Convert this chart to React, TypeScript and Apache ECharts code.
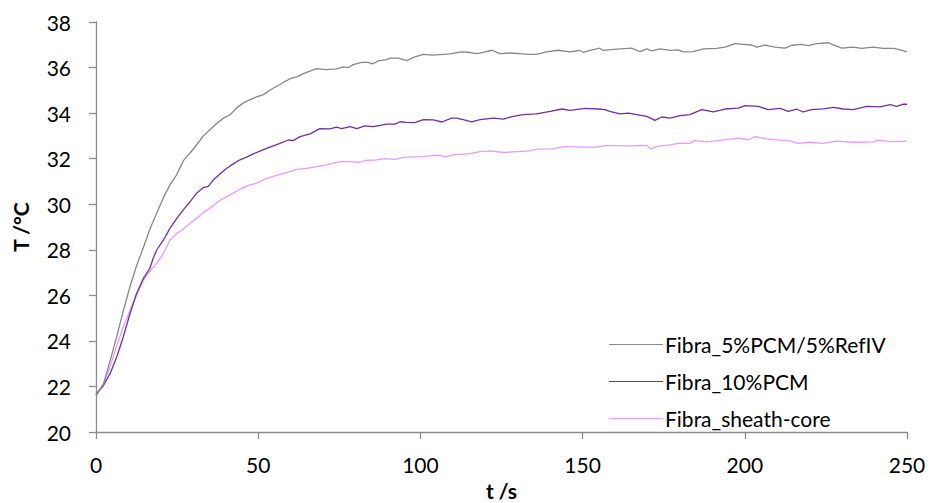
import React, { useEffect, useRef } from "react";
import * as echarts from "echarts";

const seriesNames = ["Fibra_5%PCM/5%RefIV", "Fibra_10%PCM", "Fibra_sheath-core"];
const seriesColors = ["#888888", "#7030a0", "#e59bff"];

const gray5PCM: number[][] = [
  [0, 21.6], [2.3, 22.1], [4.3, 23.1], [6.4, 24.2], [8.4, 25.3], [10.5, 26.4], [12.5, 27.3], [14.6, 28.1],
  [16.6, 28.9], [18.7, 29.6], [20.8, 30.3], [22.8, 30.85], [24.9, 31.3], [26.9, 31.9], [28, 32.1], [29, 32.25],
  [31, 32.6], [33.1, 33.0], [35.1, 33.27], [37.2, 33.54], [39.3, 33.78], [41.3, 33.93], [43.4, 34.23],
  [45.4, 34.45], [47.5, 34.59], [49.5, 34.71], [51.6, 34.81], [54.7, 35.1], [58.3, 35.39], [60.3, 35.54],
  [61.9, 35.59], [63.9, 35.73], [68, 35.95], [71.1, 35.91], [74.2, 35.94], [76.2, 36.03], [77.8, 36.0],
  [79.3, 36.13], [81.9, 36.23], [83.9, 36.23], [85.3, 36.16], [87, 36.29], [89.6, 36.35], [90.6, 36.41],
  [93.2, 36.41], [95.8, 36.3], [97.8, 36.45], [100.9, 36.58], [104, 36.55], [109.1, 36.6], [112.7, 36.69],
  [115.3, 36.66], [117.4, 36.61], [119.4, 36.67], [122, 36.76], [124.5, 36.61], [127.6, 36.64], [130.7, 36.61],
  [133.3, 36.58], [135.8, 36.58], [138.9, 36.69], [142.5, 36.76], [146.1, 36.69], [149.2, 36.75], [150.2, 36.67],
  [152.3, 36.75], [155.2, 36.85], [156.4, 36.75], [160.5, 36.81], [165.1, 36.85], [167.7, 36.7], [169.8, 36.82],
  [171.3, 36.73], [173.9, 36.82], [177, 36.75], [179.5, 36.78], [181, 36.69], [184.1, 36.7], [187.2, 36.82],
  [191.3, 36.84], [193.9, 36.9], [197, 37.05], [199.5, 37.02], [202.1, 36.99], [203.7, 36.9], [206.2, 36.98],
  [209.3, 36.9], [212.4, 36.85], [214.5, 36.98], [217.5, 37.02], [219.6, 36.96], [222.2, 37.05], [225.8, 37.09],
  [227.3, 37.0], [229.9, 36.85], [233.4, 36.9], [236, 36.84], [239.6, 36.9], [242.7, 36.84], [245.8, 36.84],
  [247.8, 36.79], [250, 36.69],
];

const purple10PCM: number[][] = [
  [0, 21.64], [2.3, 22.04], [4.3, 22.55], [6.4, 23.29], [8.4, 24.17], [10.5, 25.2], [12.5, 26.08], [14.6, 26.74],
  [16.6, 27.18], [17.6, 27.62], [18.7, 27.99], [20.8, 28.43], [22.8, 28.94], [24.9, 29.38], [26.9, 29.75],
  [29, 30.11], [31, 30.48], [33.1, 30.73], [34.6, 30.78], [36.2, 31.07], [38.2, 31.33], [40.3, 31.58],
  [42.3, 31.77], [44.4, 31.95], [46.4, 32.07], [48.5, 32.21], [50.5, 32.33], [53.6, 32.51], [56.7, 32.67],
  [59.3, 32.82], [60.8, 32.79], [62.9, 32.97], [66, 33.09], [69, 33.32], [72.1, 33.31], [74.2, 33.38],
  [75.7, 33.32], [78.3, 33.41], [80.4, 33.32], [82.9, 33.44], [85.5, 33.41], [87.5, 33.46], [89.6, 33.52],
  [92.2, 33.52], [93.7, 33.62], [95.8, 33.59], [98.3, 33.58], [100.9, 33.71], [104, 33.7], [106.6, 33.61],
  [109.6, 33.78], [111.1, 33.78], [113.2, 33.71], [115.8, 33.62], [118.4, 33.71], [122.5, 33.78], [125.6, 33.74],
  [128.6, 33.86], [131.7, 33.93], [135.8, 33.97], [140, 34.08], [143.6, 34.18], [146.1, 34.12], [150.7, 34.21],
  [154.8, 34.18], [156.9, 34.15], [158.4, 34.08], [161.5, 33.97], [164.1, 34.0], [166.7, 33.93], [169.8, 33.86],
  [172.3, 33.68], [174.4, 33.83], [177, 33.78], [180, 33.89], [183.1, 33.93], [186.7, 34.15], [190.3, 34.05],
  [193.9, 34.18], [198, 34.22], [200.1, 34.33], [204.2, 34.3], [207.2, 34.15], [210.9, 34.21], [213.4, 34.08],
  [216, 34.18], [218, 34.05], [220.6, 34.15], [224.2, 34.19], [227.3, 34.25], [230.4, 34.18], [233.4, 34.15],
  [237.6, 34.3], [241.7, 34.27], [244.8, 34.37], [246.8, 34.3], [248.9, 34.39], [250, 34.39],
];

const pinkSheathCore: number[][] = [
  [0, 21.64], [2.3, 22.11], [4.3, 22.85], [6.4, 23.8], [8.4, 24.61], [10.5, 25.34], [12.5, 26.0], [14.6, 26.66],
  [16.1, 26.96], [18.7, 27.4], [20.8, 27.84], [22.8, 28.43], [24.9, 28.72], [26.9, 28.9], [29, 29.16],
  [31, 29.38], [33.1, 29.63], [35.1, 29.82], [37.2, 30.07], [39.3, 30.26], [41.3, 30.41], [43.4, 30.58],
  [45.4, 30.73], [47.5, 30.85], [49.5, 30.92], [51.6, 31.07], [53.6, 31.18], [56.7, 31.31], [59.8, 31.43],
  [61.9, 31.53], [64.9, 31.57], [68, 31.65], [70.6, 31.72], [73.2, 31.8], [75.7, 31.88], [78.3, 31.87],
  [80.9, 31.84], [83.4, 31.93], [86, 31.94], [89.1, 32.0], [92.2, 31.97], [94.7, 32.06], [97.8, 32.08],
  [100.9, 32.09], [104, 32.14], [106.1, 32.15], [107.6, 32.08], [110.1, 32.17], [113.2, 32.2], [115.3, 32.22],
  [118.4, 32.31], [121.5, 32.34], [125.6, 32.27], [129.7, 32.31], [133.8, 32.34], [135.8, 32.42], [140.9, 32.43],
  [144.6, 32.54], [149.2, 32.51], [154.3, 32.51], [157.4, 32.58], [161.5, 32.56], [165.6, 32.56], [169.8, 32.58],
  [171, 32.42], [172.8, 32.54], [177, 32.61], [180, 32.68], [183.1, 32.67], [184.6, 32.8], [188.2, 32.74],
  [192.3, 32.8], [198, 32.9], [201, 32.83], [203.4, 32.97], [206.7, 32.87], [210.9, 32.81], [213.9, 32.78],
  [216.5, 32.67], [220.1, 32.72], [224.2, 32.67], [228.3, 32.77], [233.4, 32.72], [239.6, 32.74], [241.1, 32.81],
  [244.8, 32.75], [250, 32.77],
];

const seriesData = [gray5PCM, purple10PCM, pinkSheathCore];

const FONT = "Lato, 'Noto Sans', sans-serif";

export default function App() {
  const ref = useRef<HTMLDivElement>(null);
  useEffect(() => {
    if (!ref.current) return;
    const chart = echarts.init(ref.current, undefined, { renderer: "svg" });
    const axisLine = { show: true, lineStyle: { color: "#8c8c8c", width: 1.3 } };
    chart.setOption({
      animation: false,
      backgroundColor: "#ffffff",
      textStyle: { fontFamily: FONT },
      grid: { left: 96, right: 24, top: 22, bottom: 71, containLabel: false, outerBoundsMode: "none" },
      legend: {
        orient: "vertical",
        left: 604,
        top: 329,
        itemWidth: 54,
        itemHeight: 20,
        itemGap: 16,
        icon: "path://M0,10 L54,10 L54,11 L0,11 Z",
        textStyle: { fontFamily: FONT, fontSize: 21, color: "#000", padding: [0, 0, 0, -3] },
        data: seriesNames,
      },
      xAxis: {
        type: "value",
        min: 0,
        max: 250,
        interval: 50,
        name: "t /s",
        nameLocation: "middle",
        nameGap: 48,
        nameTextStyle: { fontFamily: FONT, fontSize: 21, fontWeight: "bold", color: "#000", lineHeight: 20 },
        axisLine,
        axisTick: { show: true, inside: false, length: 7, lineStyle: { color: "#8c8c8c", width: 1.3 } },
        axisLabel: { fontFamily: FONT, fontSize: 21, color: "#000", margin: 22 },
        splitLine: { show: false },
      },
      yAxis: {
        type: "value",
        min: 20,
        max: 38,
        interval: 2,
        name: "T /°C",
        nameLocation: "middle",
        nameGap: 65,
        nameTextStyle: { fontFamily: FONT, fontSize: 21, fontWeight: "bold", color: "#000" },
        axisLine,
        axisTick: { show: true, inside: false, length: 7, lineStyle: { color: "#8c8c8c", width: 1.3 } },
        axisLabel: { fontFamily: FONT, fontSize: 21, color: "#000", margin: 25 },
        splitLine: { show: false },
      },
      series: seriesNames.map((name, i) => ({
        name,
        type: "line",
        data: seriesData[i],
        symbol: "none",
        showSymbol: false,
        smooth: false,
        color: seriesColors[i],
        lineStyle: { color: seriesColors[i], width: 1.3 },
        itemStyle: { color: seriesColors[i] },
        z: 3 - i,
      })),
    });
    return () => chart.dispose();
  }, []);
  return <div ref={ref} style={{ width: 931, height: 503, position: "absolute", left: 0, top: 0 }} />;
}
